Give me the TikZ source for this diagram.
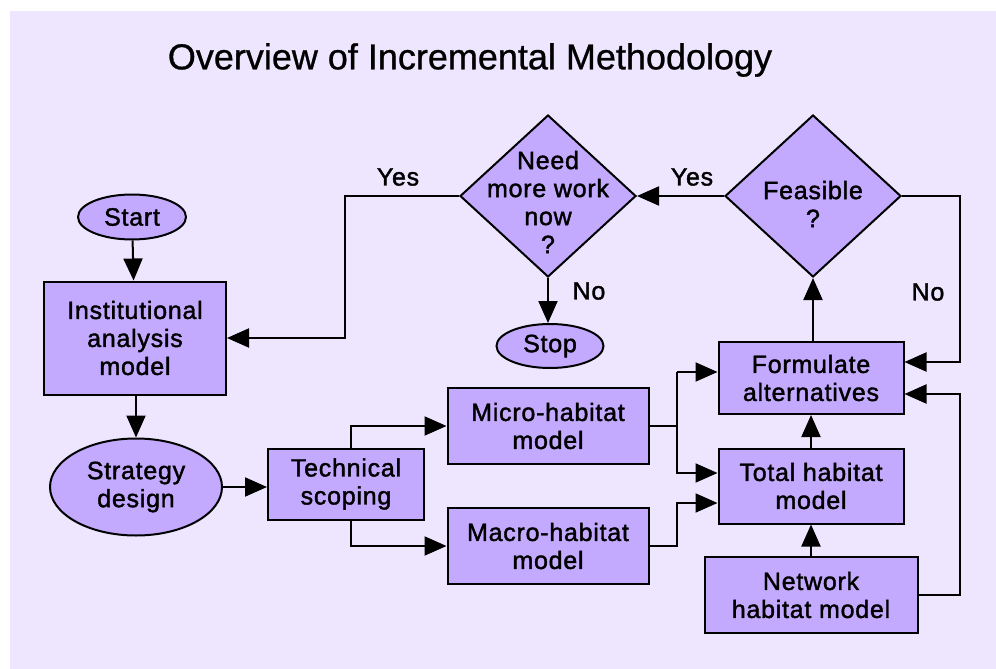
\documentclass[tikz,border=0pt]{standalone}
\usepackage{fontspec}
\setmainfont{Liberation Sans}
\newfontfamily\boxfont[FakeBold=1.6,LetterSpace=3]{Liberation Sans}
\newfontfamily\headfont[FakeBold=0.8]{Liberation Sans}
\usetikzlibrary{shapes.geometric,arrows.meta}
\definecolor{paper}{HTML}{EEE6FF}
\definecolor{boxfill}{HTML}{C4AAFF}
\tikzset{
  block/.style={draw=black,line width=2pt,fill=boxfill,align=center,inner sep=0pt,
    font=\boxfont\fontsize{25}{28}\selectfont},
  oval/.style={block,ellipse},
  decision/.style={draw=black,line width=2pt,fill=boxfill,diamond,inner sep=0pt},
  dtext/.style={align=center,inner sep=0pt,font=\boxfont\fontsize{25}{28}\selectfont},
  flow/.style={draw=black,line width=2pt,-{Triangle[length=22pt,width=19pt]}},
  plain/.style={draw=black,line width=2pt},
  lbl/.style={font=\boxfont\fontsize{25}{28}\selectfont,inner sep=0pt}
}
\begin{document}
\begin{tikzpicture}[x=1pt,y=-1pt]
  % page and background panel
  \useasboundingbox (0,0) rectangle (996,669);
  \fill[white] (0,0) rectangle (996,669);
  \fill[paper] (10,11) rectangle (996,669);

  \node[font=\headfont\fontsize{36}{40}\selectfont] (title) at (470,60) {Overview of Incremental Methodology};

  % nodes
  \node[oval,minimum width=108pt,minimum height=45pt] (start) at (132,217) {Start};
  \node[block,minimum width=182pt,minimum height=113pt] (inst) at (135,338) {Institutional\\analysis\\model};
  \node[oval,minimum width=172pt,minimum height=97pt] (strat) at (136,487) {Strategy\\design};
  \node[block,minimum width=156pt,minimum height=71pt] (tech) at (346,484) {Technical\\scoping};
  \node[block,minimum width=201pt,minimum height=76pt] (micro) at (548,426) {Micro-habitat\\model};
  \node[block,minimum width=201pt,minimum height=76pt] (macro) at (548,546) {Macro-habitat\\model};
  \node[block,minimum width=185pt,minimum height=72pt] (form) at (811,378) {Formulate\\alternatives};
  \node[block,minimum width=185pt,minimum height=75pt] (total) at (811,486) {Total habitat\\model};
  \node[block,minimum width=213pt,minimum height=76pt] (net) at (811,595) {Network\\habitat model};
  \node[decision,minimum width=176pt,minimum height=162pt] (feas) at (813,196) {};
  \node[dtext] (feastext) at (813,204) {Feasible\\?};
  \node[decision,minimum width=176pt,minimum height=162pt] (need) at (548,196) {};
  \node[dtext] (needtext) at (548,202) {Need\\more work\\now\\?};
  \node[oval,minimum width=107pt,minimum height=44pt] (stop) at (550,346) {Stop};

  % junction points
  \coordinate (ju) at (677,372);
  \coordinate (jl) at (677,503);

  % connectors
  \draw[flow] (start) -- (inst);
  \draw[flow] (inst.south -| strat.north) -- (strat);
  \draw[flow] (strat.east) -- (strat.east -| tech.west);
  \draw[flow] (tech.north -| 351,0) |- (micro.west);
  \draw[flow] (tech.south -| 351,0) |- (macro.west);
  \draw[plain] (micro.east) -| (ju);
  \draw[flow] (ju) -- (ju -| form.west);
  \draw[flow] (ju) |- (677,473) -- (total.west |- 0,473);
  \draw[flow] (macro.east) -| (jl) -- (jl -| total.west);
  \draw[flow] (net) -- (total);
  \draw[flow] (total) -- (form);
  \draw[flow] (form.north -| feas.south) -- (feas.south);
  \draw[flow] (feas.west) -- (need.east);
  \draw[flow] (feas.east) -| (960,362) -- (form.east |- 0,362);
  \draw[flow] (net.east) -| (960,394) -- (form.east |- 0,394);
  \draw[flow] (need.west) -| (345,338) -- (inst.east);
  \draw[flow] (need.south) -- (need.south |- stop.north);

  % branch labels
  \node[lbl] (yes1) at (398,177) {Yes};
  \node[lbl] (yes2) at (692,177) {Yes};
  \node[lbl] (no1) at (589,291) {No};
  \node[lbl] (no2) at (928,292) {No};
\end{tikzpicture}
\end{document}
